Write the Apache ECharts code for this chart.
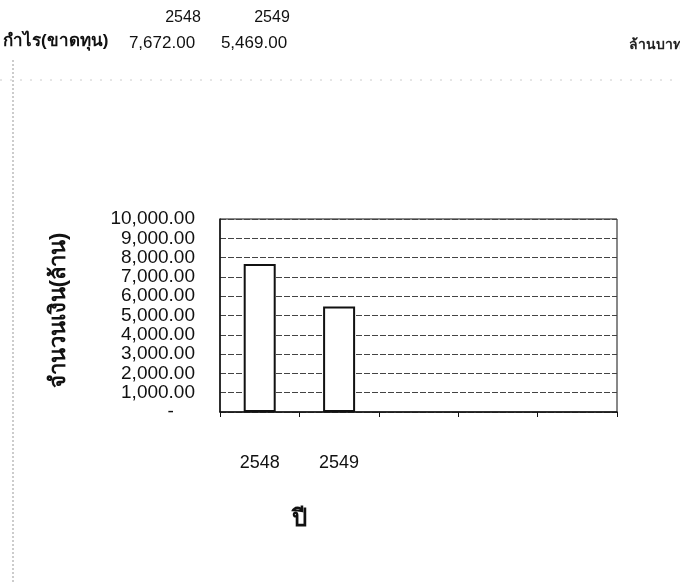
<!DOCTYPE html>
<html><head><meta charset="utf-8">
<script src="https://cdn.jsdelivr.net/npm/echarts@6/dist/echarts.min.js"></script>
<style>html,body{margin:0;padding:0;background:#fff}#c{width:680px;height:582px}</style>
</head><body><div id="c"></div>
<script>
const categories = ['2548', '2549', '', '', ''];
const profit = [7672, 5469];
const headerYears = ['2548', '2549'];
const headerLabel = 'กำไร(ขาดทุน)';
const unitLabel = 'ล้านบาท';
const yAxisName = 'จำนวนเงิน(ล้าน)';
const xAxisName = 'ปี';

const FONT = '"Liberation Sans", Arial, "Noto Sans", sans-serif';
const fmt = v => v.toLocaleString('en-US', {minimumFractionDigits: 2, maximumFractionDigits: 2});

const chart = echarts.init(document.getElementById('c'));
const headerX = [183, 272];
const valueX = [162, 254];
const graphics = [];
headerYears.forEach((y, i) => graphics.push({type: 'text', x: headerX[i], y: 10,
  style: {text: y, font: '16px ' + FONT, fill: '#111', textAlign: 'center'}}));
profit.forEach((v, i) => graphics.push({type: 'text', x: valueX[i], y: 35,
  style: {text: fmt(v), font: '17px ' + FONT, fill: '#111', textAlign: 'center'}}));
graphics.push({type: 'text', x: 3, y: 33, style: {text: headerLabel, font: 'bold 17px ' + FONT, fill: '#111'}});
graphics.push({type: 'text', x: 629, y: 38, style: {text: unitLabel, font: 'bold 14px ' + FONT, fill: '#222'}});
graphics.push({type: 'line', shape: {x1: 0, y1: 80, x2: 680, y2: 80}, style: {stroke: '#ccc', lineWidth: 1, lineDash: [2, 8]}});
graphics.push({type: 'line', shape: {x1: 13, y1: 60, x2: 13, y2: 582}, style: {stroke: '#999', lineWidth: 1, lineDash: [2, 2]}});
graphics.push({type: 'text', x: 299, y: 507, style: {text: xAxisName, font: 'bold 24px ' + FONT, fill: '#111', textAlign: 'center'}});

chart.setOption({
  backgroundColor: '#fff',
  animation: false,
  textStyle: {fontFamily: FONT},
  graphic: graphics,
  grid: {left: 220, right: 63, top: 219, bottom: 170, show: true, borderColor: '#111', borderWidth: 1},
  xAxis: {
    type: 'category', data: categories, boundaryGap: true,
    axisLine: {lineStyle: {color: '#111', width: 1.5}},
    axisTick: {show: true, length: 5, lineStyle: {color: '#111'}},
    axisLabel: {color: '#111', fontSize: 18, margin: 42}
  },
  yAxis: {
    type: 'value', min: 0, max: 10000, interval: 1000,
    name: yAxisName, nameLocation: 'middle', nameGap: 150, nameRotate: 90,
    nameTextStyle: {color: '#111', fontSize: 22, fontWeight: 'bold', padding: [0, 0, 0, 10]},
    axisLine: {show: true, lineStyle: {color: '#111', width: 1.5}},
    axisTick: {show: false},
    splitLine: {lineStyle: {color: '#444', width: 1, type: [6, 2]}},
    axisLabel: {color: '#111', fontSize: 19, margin: 25,
      formatter: v => v === 0 ? '-    ' : fmt(v)}
  },
  series: [{
    type: 'bar', data: profit, barWidth: 32,
    itemStyle: {color: '#fff', borderColor: '#111', borderWidth: 2}
  }]
});
</script></body></html>
